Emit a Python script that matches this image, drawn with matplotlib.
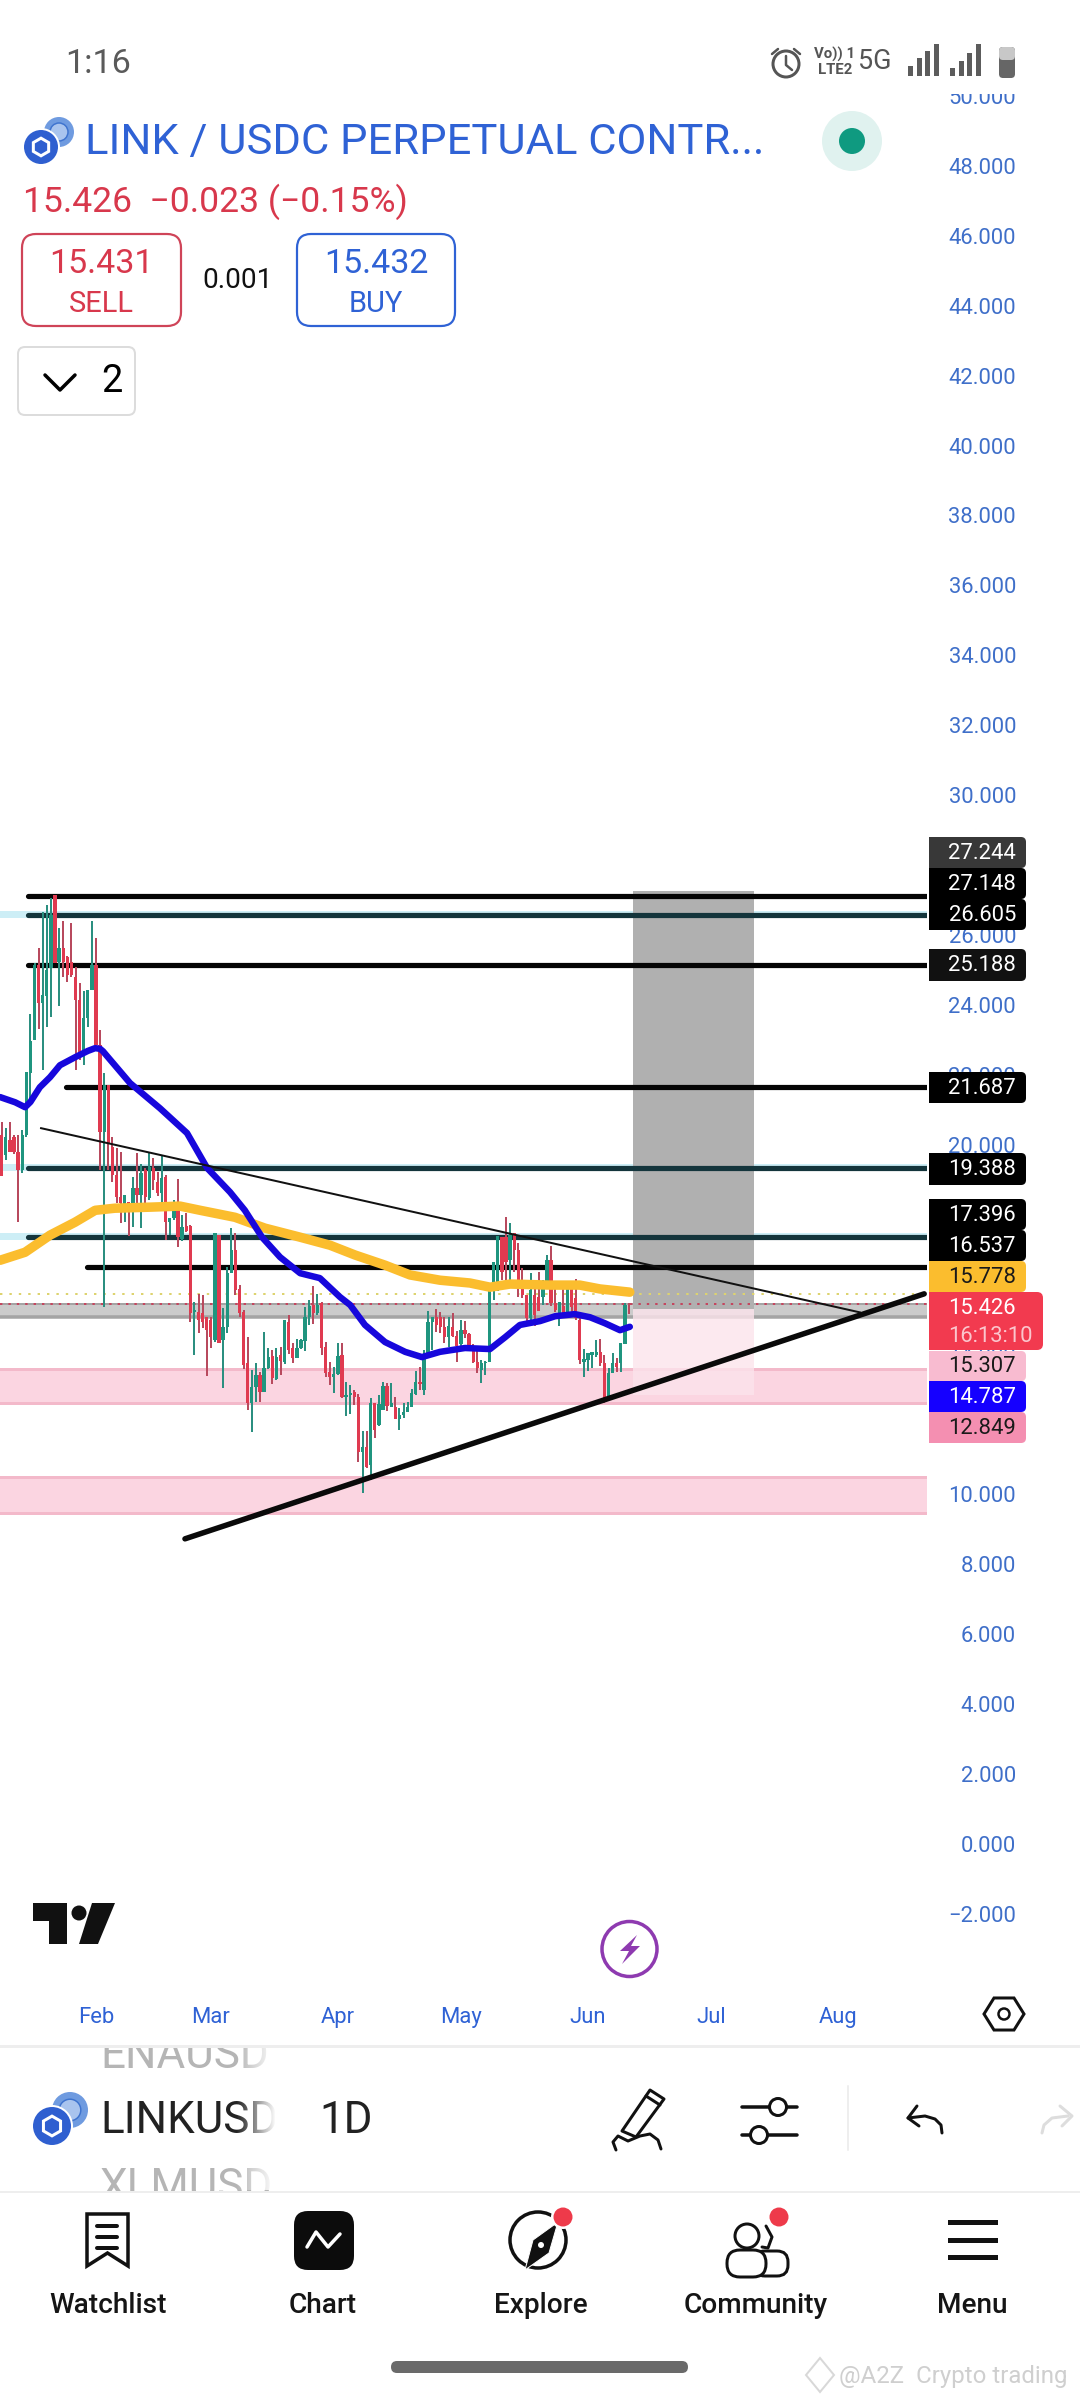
import matplotlib
matplotlib.use('Agg')
import matplotlib.pyplot as plt
import numpy as np
from matplotlib.patches import Circle, FancyBboxPatch, Polygon, Rectangle

plt.rcParams['font.family'] = ['Roboto', 'DejaVu Sans']

# daily candles, first one is 23 days before Feb 1
first_day = -23
directions = ("RGRRRGGGGR" "GGGRGRRRRR" "GGGRRGRRRR" "GRGRGRGRRG" "RGGRGRRGRR" "RRGRGGGRRR" "RGGRGGRGRG" "RRGGGGRGRR"
              "RGGRGGRRGR" "GRGGRGRGGG" "GGRGGGRRRG" "RRGRRRRGGG" "GGRRGRRRRG" "RRGGRRGRGR" "RRGGGGRRGG" "RGGR")
highs = [20.64, 20.47, 20.64, 20.27, 20.27, 20.41, 22.07, 23.73, 25.19, 25.62,
         26.65, 26.85, 27.05, 27.14, 26.20, 26.39, 25.39, 26.33, 25.07, 24.62,
         24.39, 24.42, 26.39, 25.90, 23.27, 22.04, 21.70, 20.21, 19.90, 19.78,
         18.55, 18.35, 19.07, 19.75, 19.44, 19.33, 19.75, 19.61, 19.21, 19.70,
         19.13, 17.90, 18.41, 19.01, 17.98, 18.04, 17.70, 15.49, 15.72, 15.69,
         15.06, 15.06, 17.47, 17.41, 15.32, 16.49, 17.61, 17.47, 15.98, 15.26,
         14.49, 13.55, 13.75, 13.49, 14.63, 14.18, 14.12, 14.18, 14.21, 14.98,
         15.12, 14.32, 14.43, 14.43, 15.35, 15.55, 15.95, 15.72, 15.49, 14.35,
         13.78, 13.64, 14.32, 14.32, 13.21, 13.12, 12.98, 12.86, 11.80, 11.80,
         12.75, 12.60, 12.84, 13.21, 13.18, 13.18, 12.78, 12.46, 12.60, 12.63,
         13.00, 13.52, 13.64, 14.12, 15.24, 15.06, 15.29, 15.21, 15.06, 15.06,
         15.18, 14.66, 14.98, 14.95, 14.61, 14.29, 14.15, 13.84, 13.81, 15.92,
         16.64, 17.38, 17.35, 17.92, 17.75, 17.47, 17.19, 16.47, 15.69, 16.32,
         15.92, 16.35, 16.12, 16.84, 17.09, 15.86, 15.49, 15.89, 16.06, 16.06,
         16.15, 15.12, 14.15, 14.03, 14.06, 14.41, 14.43, 13.98, 13.60, 14.03,
         13.89, 14.32, 15.46, 15.47]
body_tops = [20.27, 20.21, 20.13, 20.21, 19.78, 20.27, 22.07, 22.96, 25.13, 25.13,
             24.27, 24.99, 26.56, 27.14, 25.62, 25.62, 25.36, 25.22, 24.79, 24.13,
             23.62, 24.42, 25.13, 25.13, 22.84, 21.70, 21.70, 19.93, 19.13, 18.50,
             18.55, 18.35, 18.75, 18.75, 19.18, 19.27, 19.35, 19.33, 18.92, 19.04,
             19.07, 17.90, 18.24, 18.24, 17.64, 17.67, 17.67, 15.26, 15.21, 15.18,
             15.06, 14.98, 17.47, 17.41, 14.78, 16.32, 16.98, 16.98, 15.86, 15.21,
             13.75, 13.06, 13.41, 13.41, 13.60, 13.92, 13.95, 13.92, 13.98, 14.98,
             14.92, 14.18, 14.18, 14.41, 15.06, 15.38, 15.41, 15.41, 15.46, 14.21,
             13.49, 13.44, 13.95, 13.98, 12.84, 12.89, 12.92, 12.78, 11.35, 11.35,
             12.60, 12.60, 12.58, 13.09, 13.09, 12.60, 12.49, 12.26, 12.35, 12.49,
             12.89, 13.21, 13.21, 13.98, 14.92, 15.06, 15.06, 15.06, 14.78, 14.81,
             14.78, 14.52, 14.69, 14.69, 14.58, 14.15, 13.78, 13.75, 13.78, 15.89,
             16.64, 17.38, 17.35, 17.35, 17.41, 17.47, 16.98, 15.95, 15.69, 15.84,
             15.69, 15.64, 16.06, 16.69, 16.69, 15.46, 15.49, 15.38, 16.06, 15.92,
             15.61, 14.98, 13.86, 14.03, 14.06, 14.06, 14.06, 13.75, 13.46, 13.75,
             13.75, 14.32, 15.41, 15.449]
body_bottoms = [19.10, 19.70, 19.78, 19.78, 19.27, 19.27, 20.27, 22.04, 22.99, 24.04,
                24.04, 24.24, 25.05, 25.19, 25.22, 25.22, 24.85, 24.85, 24.13, 22.56,
                22.56, 23.62, 24.42, 22.84, 20.35, 20.35, 20.04, 19.13, 18.50, 18.32,
                18.27, 18.21, 18.18, 18.55, 18.55, 18.50, 18.47, 18.98, 18.61, 18.61,
                17.78, 17.78, 17.90, 17.35, 17.30, 17.52, 15.18, 15.21, 14.98, 14.92,
                14.69, 14.49, 14.41, 14.32, 14.41, 14.78, 16.32, 15.84, 15.18, 13.69,
                12.60, 12.60, 13.06, 12.92, 12.92, 13.60, 13.32, 13.29, 13.81, 13.78,
                14.12, 13.89, 13.89, 14.18, 14.38, 15.06, 15.18, 15.18, 14.18, 13.46,
                13.35, 13.35, 13.44, 12.78, 12.78, 12.84, 12.78, 11.20, 11.20, 10.77,
                10.83, 11.83, 11.98, 12.40, 12.52, 12.49, 12.15, 12.15, 12.26, 12.35,
                12.49, 12.86, 13.15, 12.98, 13.98, 14.92, 14.83, 14.78, 14.49, 14.49,
                14.52, 14.23, 14.29, 14.58, 14.21, 13.78, 13.60, 13.55, 13.75, 13.78,
                15.84, 15.92, 16.35, 16.64, 16.69, 16.98, 15.92, 15.69, 15.04, 15.04,
                15.12, 15.24, 15.64, 16.04, 15.46, 15.26, 15.12, 15.21, 15.21, 15.35,
                15.04, 13.83, 13.78, 13.83, 13.98, 13.98, 13.75, 12.75, 12.78, 13.46,
                13.63, 13.75, 14.29, 15.426]
lows = [19.10, 19.55, 19.78, 19.73, 17.78, 19.18, 20.21, 21.13, 22.99, 23.30,
        22.13, 23.36, 23.64, 25.19, 23.96, 24.79, 24.64, 24.79, 22.13, 22.41,
        22.27, 23.36, 24.42, 22.84, 19.27, 15.35, 19.27, 18.92, 18.32, 17.75,
        17.78, 17.38, 17.64, 18.18, 17.61, 18.12, 18.41, 18.70, 18.52, 18.32,
        17.27, 17.41, 17.84, 17.07, 17.24, 17.49, 14.92, 13.98, 14.61, 14.75,
        13.38, 14.18, 14.35, 14.32, 13.03, 14.61, 16.32, 15.69, 15.06, 13.58,
        12.40, 11.77, 12.63, 12.63, 12.92, 13.58, 13.15, 13.26, 13.41, 13.72,
        14.00, 13.75, 13.89, 14.15, 14.09, 14.83, 14.86, 15.12, 13.98, 13.35,
        13.12, 12.89, 13.41, 12.75, 12.23, 12.29, 12.55, 10.92, 10.03, 10.75,
        10.40, 11.60, 11.95, 12.40, 12.38, 12.49, 12.15, 11.83, 12.17, 12.35,
        12.49, 12.84, 12.98, 12.84, 13.98, 14.12, 14.63, 14.61, 14.32, 14.21,
        14.49, 13.78, 14.23, 14.46, 14.15, 13.75, 13.46, 13.18, 13.41, 13.78,
        15.55, 15.81, 16.12, 15.98, 16.04, 16.35, 15.64, 15.61, 14.92, 14.83,
        14.81, 15.24, 15.41, 15.89, 15.38, 15.21, 14.81, 15.12, 15.12, 15.12,
        14.98, 13.72, 13.35, 13.52, 13.60, 13.92, 13.66, 12.60, 12.75, 13.46,
        13.49, 13.49, 14.29, 15.15]

# moving averages
blue_days = [-23.4, -19.7, -17.3, -16, -13.7, -11.2, -8.8, -5.1, -2, -0.2, 1, 1.7, 8.3, 15.6, 22.2, 27.1, 32.7, 36.3,
             40.5, 44.9, 49.8, 54.6, 59.5, 62, 65.6, 70.5, 75.4, 79.5, 83.9, 90, 96.1, 99.8, 103.4, 108.3, 112, 116.8,
             120.5, 124.1, 127.8, 130.2]
blue_values = [21.36, 21.21, 21.07, 21.22, 21.64, 21.93, 22.27, 22.50, 22.68, 22.76, 22.74, 22.67, 21.76, 21.04, 20.33,
               19.33, 18.64, 18.12, 17.35, 16.78, 16.32, 16.18, 15.64, 15.41, 14.84, 14.35, 14.07, 13.92, 14.07, 14.18,
               14.15, 14.49, 14.84, 14.95, 15.09, 15.15, 15.06, 14.89, 14.69, 14.787]
yellow_days = [-23.4, -17.3, -11.2, -5.1, -0.2, 4.6, 13.2, 20.5, 25.4, 33.9, 41.2, 49.8, 57.1, 63.2, 70.5, 76.6, 83.9,
               91.2, 96.1, 101, 110.7, 118, 122.9, 130.2]
yellow_values = [16.69, 16.92, 17.41, 17.78, 18.12, 18.18, 18.21, 18.24, 18.12, 17.92, 17.61, 17.35, 17.12, 16.84,
                 16.55, 16.27, 16.12, 16.04, 15.92, 16.01, 15.98, 15.98, 15.87, 15.778]

# horizontal drawings
black_levels = [27.148, 25.188, 21.687, 16.537]
black_starts = [-16.6, -16.6, -7.3, -2.2]
teal_levels = [26.605, 19.388, 17.396]
teal_starts = [-16.6, -16.6, -16.6]

month_days = [0, 28, 59, 89, 120, 150, 181]
month_names = ['Feb', 'Mar', 'Apr', 'May', 'Jun', 'Jul', 'Aug']
price_ticks = list(range(-2, 52, 2))


def px(n):
    # font size / line width given in pixels of the 100 dpi picture
    return n * 0.72


fig = plt.figure(figsize=(10.8, 24), dpi=100, facecolor='white')

# chart, placed so that x = 96 + 4.1 * day and y = 1843.6 - 34.95 * price in pixels
ax = fig.add_axes([0, (2400 - 1995) / 2400, 927 / 1080, (1995 - 94) / 2400])
x_right = (927 - 96) / 4.1
ax.set_xlim(-96 / 4.1, x_right)
ax.set_ylim((1843.6 - 1995) / 34.95, (1843.6 - 94) / 34.95)
for side in ax.spines.values():
    side.set_visible(False)

BLUE_TEXT = '#3f6fc9'
ax.yaxis.tick_right()
ax.set_yticks(price_ticks)
ax.set_yticklabels([f'{v:.3f}'.replace('-', '\u2212') for v in price_ticks], fontsize=px(22), color=BLUE_TEXT, ha='right')
ax.tick_params(axis='y', length=0, pad=px(89))
ax.set_xticks(month_days)
ax.set_xticklabels(month_names, fontsize=px(22), color='#2f62d5')
ax.tick_params(axis='x', length=0, pad=px(12))

# zones
for top, bottom in [(13.58, 12.60), (10.49, 9.46)]:
    ax.axhspan(bottom, top, fc='#fbd5e1', ec='none', zorder=1)
    ax.axhline(top, color='#f3b9ca', lw=px(3), zorder=1.1)
    ax.axhline(bottom, color='#f3b9ca', lw=px(3), zorder=1.1)
ax.axhspan(15.04, 15.47, fc='#cbcbcb', ec='none', zorder=1.5)
ax.axhline(15.07, color='#a4a4a4', lw=px(3.5), zorder=1.6)
ax.axhline(15.45, color='#a4a4a4', lw=px(2), zorder=1.6)
for level in teal_levels:
    ax.axhspan(level - 0.13, level + 0.07, fc='#cdeef6', ec='none', zorder=1.2)

# long position tool
ax.add_patch(Rectangle((131, 15.307), 29.5, 27.244 - 15.307, fc='#b0b0b0', ec='none', zorder=1.8))
ax.add_patch(Rectangle((131, 12.849), 29.5, 15.307 - 12.849, fc='#fce4ec', alpha=0.8, ec='none', zorder=1.8))

# levels, the screenshot draws them about 1.6 px under their price
level_shift = 0.046
for level, start in zip(black_levels, black_starts):
    ax.plot([start, x_right + 3], [level - level_shift] * 2, color='#050505', lw=px(5.2), solid_capstyle='round', zorder=2)
for level, start in zip(teal_levels, teal_starts):
    ax.plot([start, x_right + 3], [level - level_shift] * 2, color='#14353c', lw=px(5.2), solid_capstyle='round', zorder=2)
ax.axhline(15.73, color='#ddd36f', lw=px(2), ls=(0, (1.2, 3.5)), zorder=2.1)
ax.axhline(15.426, color='#c5455e', lw=px(2), ls=(0, (1.2, 3.0)), zorder=2.1)

# candles
days = np.arange(first_day, first_day + len(highs))
GREEN = '#1f957f'
RED = '#e03a50'
colors = [GREEN if c == 'G' else RED for c in directions]
wick_colors = ['#2b8f80' if c == 'G' else '#b84a5e' for c in directions]
ax.vlines(days, lows, highs, colors=wick_colors, lw=px(2), zorder=3)
ax.bar(days, np.array(body_tops) - np.array(body_bottoms), bottom=body_bottoms, width=0.8, color=colors, lw=0, zorder=3.1)

# moving averages and trend lines
ax.plot(yellow_days, yellow_values, color='#fbbd2e', lw=px(9.5), solid_capstyle='round', solid_joinstyle='round', zorder=4)
ax.plot(blue_days, blue_values, color='#1707dc', lw=px(6.5), solid_capstyle='round', solid_joinstyle='round', zorder=4.1)
ax.plot([-13.4, 186.3], [20.47, 15.2], color='#111111', lw=px(2), zorder=4.2)
ax.plot([21.7, 202], [8.72, 15.73], color='#0a0a0a', lw=px(5.5), solid_capstyle='round', zorder=4.3)

# everything around the chart, in plain pixels
ui = fig.add_axes([0, 0, 1, 1], zorder=5)
ui.set_xlim(0, 1080)
ui.set_ylim(2400, 0)
ui.axis('off')
ui.patch.set_alpha(0)


def label(x, y, text, size, color='black', ha='center', **kw):
    # va center sits a little high because of the descent, push it back
    return ui.text(x, y + size * 0.07, text, fontsize=px(size), color=color, ha=ha, va='center', **kw)


def round_box(x0, y0, x1, y1, r, fc='none', ec='none', lw=0, z=6):
    ui.add_patch(FancyBboxPatch((x0 + r, y0 + r), x1 - x0 - 2 * r, y1 - y0 - 2 * r, boxstyle=f'round,pad={r},rounding_size={r}',
                                fc=fc, ec=ec, lw=lw, zorder=z))


def curve(xs, ys, color='black', width=3, z=7):
    ui.plot(xs, ys, color=color, lw=px(width), solid_capstyle='round', solid_joinstyle='round', zorder=z)


ui.add_patch(Rectangle((0, 0), 1080, 94, fc='white', ec='none', zorder=1))

# price labels
price_boxes = [('27.244', 837, 868, '#383838', 'white'), ('27.148', 868, 899, 'black', 'white'),
               ('26.605', 899, 930, 'black', 'white'), ('25.188', 949, 981, '#111111', 'white'),
               ('21.687', 1072, 1103, 'black', 'white'), ('19.388', 1153, 1185, 'black', 'white'),
               ('17.396', 1199, 1230, 'black', 'white'), ('16.537', 1230, 1261, 'black', 'white'),
               ('15.778', 1261, 1292, '#fbbd2e', '#1a1a1a'), ('15.307', 1351, 1381, '#f8bbd0', '#1a1a1a'),
               ('14.787', 1381, 1412, '#1500ff', 'white'), ('12.849', 1412, 1443, '#f48fb1', '#1a1a1a')]
for text, y0, y1, bg, fg in price_boxes:
    round_box(929, y0, 1026, y1, 5, fc=bg, z=3)
    ui.add_patch(Rectangle((929, y0), 20, y1 - y0, fc=bg, ec='none', zorder=3))
    label(1016, (y0 + y1) / 2 - 1, text, 22, fg, ha='right', zorder=4)
round_box(929, 1292, 1043, 1350, 6, fc='#f23a4f', z=3.5)
ui.add_patch(Rectangle((929, 1292), 20, 58, fc='#f23a4f', ec='none', zorder=3.5))
label(1016, 1307, '15.426', 22, 'white', ha='right', zorder=4)
label(1033, 1335, '16:13:10', 22, '#fbc6cd', ha='right', zorder=4)


# status bar
label(98, 62, '1:16', 34, '#5a5a5a')
ui.add_patch(Circle((786, 64), 13, fc='none', ec='#555555', lw=px(3)))
curve([786, 786, 792], [56, 65, 70], '#555555', 2.5)
curve([772, 778], [54, 49], '#555555', 2.5)
curve([794, 800], [49, 54], '#555555', 2.5)
label(835, 53, 'Vo)) 1', 15, '#555555', fontweight='bold')
label(835, 69, 'LTE2', 15, '#555555', fontweight='bold')
label(875, 60, '5G', 27, '#555555')
for base, heights in [(908, [10, 18, 25, 32]), (950, [8, 15, 23, 32])]:
    for i, h in enumerate(heights):
        ui.add_patch(Rectangle((base + i * 8.5, 76 - h), 5, h, fc='#5c5c5c', ec='none'))
round_box(999, 47, 1015, 78, 4, fc='#666666')
round_box(999, 47, 1015, 60, 4, fc='#c8c8c8', z=6.5)


def coin_logo(fx, fy, fr, bx, by, br):
    ui.add_patch(Circle((bx, by), br, fc='#6f9be0', ec='none', zorder=6))
    ui.add_patch(Circle((bx, by), br * 0.6, fc='#a9c4ee', ec='#3f74cf', lw=px(1.5), zorder=6.1))
    ui.add_patch(Circle((fx, fy), fr + 2, fc='white', ec='none', zorder=6.2))
    ui.add_patch(Circle((fx, fy), fr, fc='#2f5fd0', ec='none', zorder=6.3))
    angles = np.radians(np.arange(30, 390, 60))
    ui.add_patch(Polygon(np.c_[fx + fr * 0.52 * np.cos(angles), fy + fr * 0.52 * np.sin(angles)], fc='none', ec='white',
                         lw=px(3), zorder=6.4))


# header
coin_logo(41, 147, 17, 59, 132, 15)
label(85, 139, 'LINK / USDC PERPETUAL CONTR...', 43.5, '#2f62d5', ha='left')
ui.add_patch(Circle((852, 141), 30, fc='#e0f2ef', ec='none'))
ui.add_patch(Circle((852, 141), 13, fc='#0f9a80', ec='none'))
label(23, 199, '15.426  \u22120.023 (\u22120.15%)', 35.5, '#d8384c', ha='left')
round_box(22, 234, 181, 326, 14, ec='#cf4458', lw=px(2.2))
label(101, 262, '15.431', 34, '#d8384c')
label(101, 302, 'SELL', 29, '#d8384c')
label(238, 279, '0.001', 28, '#111111')
round_box(297, 234, 455, 326, 14, ec='#2f62d5', lw=px(2.2))
label(376, 262, '15.432', 34, '#2f62d5')
label(376, 302, 'BUY', 29, '#2f62d5')
round_box(18, 347, 135, 415, 7, ec='#dcdcdc', lw=px(2))
curve([45, 60, 75], [375, 390, 375], 'black', 3.5)
label(112, 379, '2', 38, 'black')

# tradingview mark
ui.add_patch(Polygon([(33, 1903), (67, 1903), (67, 1944), (49, 1944), (49, 1921), (33, 1921)], fc='#111111', ec='none'))
ui.add_patch(Circle((79, 1913), 7.5, fc='#111111', ec='none'))
ui.add_patch(Polygon([(92, 1903), (115, 1903), (98, 1944), (79, 1944)], fc='#111111', ec='none'))

# bolt button
ui.add_patch(Circle((629.5, 1949), 27.5, fc='white', ec='#8e3ab0', lw=px(3.5)))
ui.add_patch(Polygon([(637, 1935), (620, 1951), (629, 1951), (622, 1964), (640, 1946), (631, 1946)], fc='#8e3ab0', ec='none', zorder=7))

# settings hexagon
hx = 1004 + 20 * np.cos(np.radians(np.arange(0, 360, 60)))
hy = 2014 + 18.5 * np.sin(np.radians(np.arange(0, 360, 60)))
ui.add_patch(Polygon(np.c_[hx, hy], fc='none', ec='#111111', lw=px(3)))
ui.add_patch(Circle((1004, 2014), 5.5, fc='none', ec='#111111', lw=px(2.5)))

# toolbar
ui.plot([0, 1080], [2046, 2046], color='#eeeeee', lw=px(3))
ui.plot([0, 1080], [2192, 2192], color='#eeeeee', lw=px(2))
top_text = ui.text(100, 2068, 'ENAUSD', fontsize=px(44), color='#b5b5b5', va='baseline', clip_on=True)
top_text.set_clip_path(Rectangle((0, 2048), 1080, 30, transform=ui.transData))
bottom_text = ui.text(100, 2200, 'XLMUSD', fontsize=px(44), color='#b5b5b5', va='baseline', clip_on=True)
bottom_text.set_clip_path(Rectangle((0, 2160), 1080, 31, transform=ui.transData))
ticker = ui.text(100, 2133, 'LINKUSD', fontsize=px(44), color='#222222', va='baseline', clip_on=True)
ticker.set_clip_path(Rectangle((90, 2080), 186, 70, transform=ui.transData))
fade = np.ones((1, 40, 4))
fade[0, :, 3] = np.linspace(0, 1, 40)
ui.imshow(fade, extent=(236, 276, 2190, 2048), aspect='auto', zorder=8)
ui.set_xlim(0, 1080)
ui.set_ylim(2400, 0)
coin_logo(52, 2126, 19, 70, 2110, 18)
label(346, 2118, '1D', 44, '#222222')

ui.add_patch(Polygon([(650, 2090), (664, 2099), (636, 2137), (622, 2131)], fc='none', ec='#111111', lw=px(3), joinstyle='round'))
curve([646, 660], [2096, 2105], '#111111', 3)
curve([616, 613, 618, 628, 640, 650, 658, 661], [2150, 2142, 2136, 2141, 2136, 2134, 2140, 2149], '#111111', 3)
curve([742, 797], [2107, 2107], '#111111', 3.5)
curve([742, 797], [2135, 2135], '#111111', 3.5)
ui.add_patch(Circle((778, 2107), 8.5, fc='white', ec='#111111', lw=px(3), zorder=7.1))
ui.add_patch(Circle((759, 2135), 8.5, fc='white', ec='#111111', lw=px(3), zorder=7.1))
curve([848, 848], [2086, 2150], '#eeeeee', 2)
curve([917, 908, 919], [2106, 2118, 2126], '#111111', 3)
curve([908, 925, 935, 941, 942], [2118, 2116, 2119, 2125, 2133], '#111111', 3)
curve([1042, 1044, 1052, 1068], [2133, 2125, 2118, 2116], '#dddddd', 3)
curve([1060, 1072, 1062], [2106, 2116, 2126], '#dddddd', 3)

# bottom navigation
nav_names = ['Watchlist', 'Chart', 'Explore', 'Community', 'Menu']
nav_centers = [108, 323, 541, 756, 972]
for name, cx in zip(nav_names, nav_centers):
    label(cx, 2304, name, 28, '#151515', fontweight='medium')

ui.add_patch(Polygon([(87, 2214), (128, 2214), (128, 2266), (107.5, 2253), (87, 2266)], fc='none', ec='#111111', lw=px(3.5)))
for y in [2226, 2237, 2248]:
    curve([97, 117], [y, y], '#111111', 4)
round_box(294, 2211, 354, 2270, 14, fc='#0c0c0c')
curve([307, 316, 328, 340], [2247, 2232, 2247, 2234], 'white', 3.5)
ui.add_patch(Circle((538, 2240), 28, fc='none', ec='#111111', lw=px(3.5)))
ui.add_patch(Polygon([(558, 2222), (549, 2253), (525, 2270), (533, 2240)], fc='#111111', ec='white', lw=px(1), zorder=7))
ui.add_patch(Circle((541, 2245), 3, fc='white', ec='none', zorder=7.1))
ui.add_patch(Circle((563, 2217), 12, fc='white', ec='none', zorder=7.2))
ui.add_patch(Circle((563, 2217), 9.5, fc='#ee3a4a', ec='none', zorder=7.3))
ui.add_patch(Circle((747, 2236), 12, fc='white', ec='#111111', lw=px(3)))
curve([766, 772, 768, 762], [2226, 2237, 2248, 2247], '#111111', 3)
round_box(754, 2251, 788, 2276, 11, fc='white', ec='#111111', lw=px(3))
round_box(727, 2250, 766, 2277, 13, fc='white', ec='#111111', lw=px(3), z=6.5)
ui.add_patch(Circle((779, 2217), 12, fc='white', ec='none', zorder=7.2))
ui.add_patch(Circle((779, 2217), 9.5, fc='#ee3a4a', ec='none', zorder=7.3))
for y in [2222, 2240, 2257]:
    ui.add_patch(Rectangle((948, y - 2.5), 50, 5, fc='#111111', ec='none'))

round_box(391, 2361, 688, 2373, 6, fc='#6a6a6a')

# watermark
label(839, 2375, '@A2Z  Crypto trading', 24, '#cfcfcf', ha='left')
ui.add_patch(Polygon([(820, 2358), (834, 2375), (820, 2392), (806, 2375)], fc='none', ec='#d8d8d8', lw=px(2)))

fig.savefig('out.png', dpi=100)
